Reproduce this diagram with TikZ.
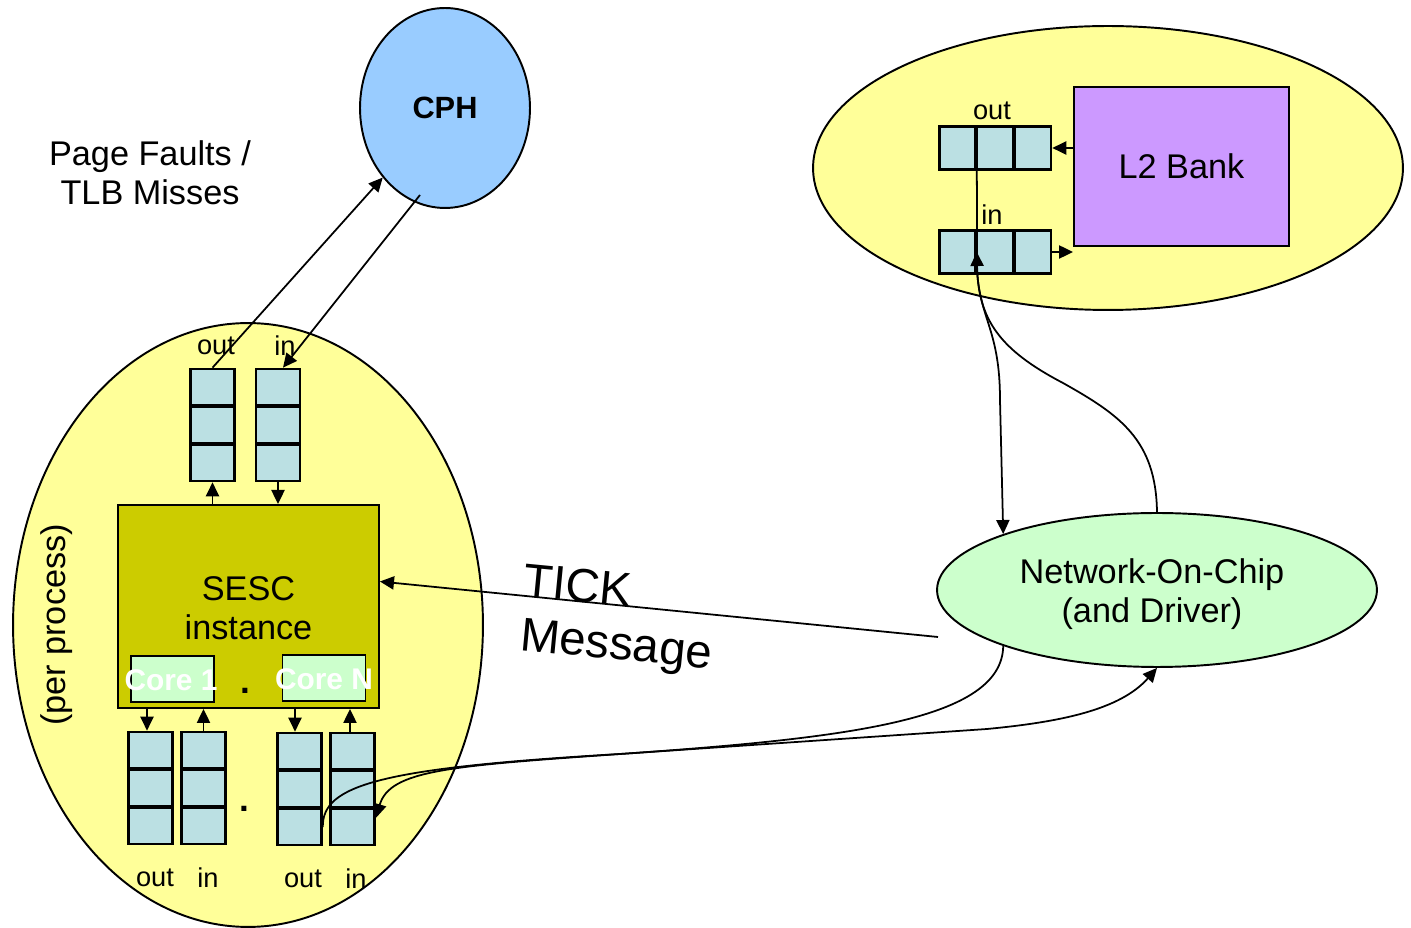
\documentclass[tikz,border=0pt]{standalone}
\usepackage{fontspec}
\setmainfont{Liberation Sans}
\usetikzlibrary{shapes.geometric,arrows.meta}
\definecolor{paleyellow}{HTML}{FFFF99}
\definecolor{cphblue}{HTML}{99CCFF}
\definecolor{lilac}{HTML}{CC99FF}
\definecolor{olive}{HTML}{CCCC00}
\definecolor{palegreen}{HTML}{CCFFCC}
\definecolor{cellblue}{HTML}{BBE0E3}
\begin{document}
\begin{tikzpicture}[x=0.02cm,y=-0.02cm,
  blob/.style={ellipse,draw,line width=1.1pt,inner sep=0pt},
  cell/.style={draw,line width=1.5pt,fill=cellblue,minimum width=0.88cm,minimum height=0.72cm,inner sep=0pt},
  rcell/.style={cell,minimum width=0.72cm,minimum height=0.86cm},
  conn/.style={line width=1pt},
  arr/.style={conn,-{Triangle[length=8pt,width=7.5pt]}},
  barr/.style={conn,{Triangle[length=8pt,width=7.5pt]}-{Triangle[length=8pt,width=7.5pt]}},
  big/.style={font=\fontsize{19.5}{22}\selectfont},
  small/.style={font=\fontsize{15.5}{18}\selectfont},
  huge/.style={font=\fontsize{27}{32}\selectfont},
  corebox/.style={draw,line width=1.1pt,fill=palegreen,minimum width=1.66cm,minimum height=0.92cm,inner sep=0pt},
  coretext/.style={inner sep=0pt,text=white,font=\fontsize{17}{19}\bfseries\selectfont}
]
\useasboundingbox (0,0) rectangle (1411,928);

% big ellipses
\node[blob,fill=paleyellow,minimum width=9.4cm,minimum height=12.08cm] (proc) at (248,625) {};
\node[blob,fill=paleyellow,minimum width=11.8cm,minimum height=5.68cm] (l2area) at (1108,168) {};
\node[blob,fill=cphblue,minimum width=3.4cm,minimum height=4cm,font=\fontsize{17.5}{20}\bfseries\selectfont] (cph) at (445,108) {CPH};
\node[blob,fill=palegreen,minimum width=8.8cm,minimum height=3.08cm] (noc) at (1157,590) {};
\node[big,align=center] (noctext) at (1152,594) {Network-On-Chip\\(and Driver)};

% texts
\node[big,align=center] (pf) at (150,173) {Page Faults /\\TLB Misses};
\node[big,rotate=90] (pp) at (57,625) {(per process)};

% L2 bank
\node[draw,line width=1.1pt,fill=lilac,minimum width=4.3cm,minimum height=3.18cm,inner sep=0pt,big] (l2) at (1181.5,166.5) {L2 Bank};
\node[rcell] (ro1) at (957.5,148) {};
\node[rcell] (ro2) at (995,148) {};
\node[rcell] (ro3) at (1033,148) {};
\node[rcell] (ri1) at (957.5,252) {};
\node[rcell] (ri2) at (995,252) {};
\node[rcell] (ri3) at (1033,252) {};
\node[small] (rolab) at (992,111) {out};
\node[small] (rilab) at (992,215) {in};

% SESC
\node[draw,line width=1.1pt,fill=olive,minimum width=5.22cm,minimum height=4.06cm,inner sep=0pt] (sesc) at (248.5,606.5) {};
\node[big,align=center] (sesctext) at (248.5,608) {SESC\\instance};
\node[corebox] (core1) at (172.5,679) {};
\node[corebox] (coren) at (324,678) {};
\node[coretext] (core1text) at (171,680) {Core 1};
\node[coretext] (corentext) at (324,679) {Core N};
\node[anchor=base,font=\fontsize{20}{22}\bfseries\selectfont] (dot1) at (245,694) {.};

% top queues
\node[cell] (to1) at (212.5,387) {};
\node[cell] (to2) at (212.5,425) {};
\node[cell] (to3) at (212.5,463) {};
\node[cell] (ti1) at (278,387) {};
\node[cell] (ti2) at (278,425) {};
\node[cell] (ti3) at (278,463) {};
\node[small] (tolab) at (216,346) {out};
\node[small] (tilab) at (285,346) {in};

% bottom queues
\node[cell] (ba1) at (150.5,750) {};
\node[cell] (ba2) at (150.5,788) {};
\node[cell] (ba3) at (150.5,826) {};
\node[cell] (bb1) at (203.5,750) {};
\node[cell] (bb2) at (203.5,788) {};
\node[cell] (bb3) at (203.5,826) {};
\node[cell] (bc1) at (299.5,751) {};
\node[cell] (bc2) at (299.5,789) {};
\node[cell] (bc3) at (299.5,827) {};
\node[cell] (bd1) at (352.5,751) {};
\node[cell] (bd2) at (352.5,789) {};
\node[cell] (bd3) at (352.5,827) {};
\node[anchor=base,font=\fontsize{20}{22}\bfseries\selectfont] (dot2) at (244,812) {.};
\node[small] (balab) at (155,878) {out};
\node[small] (bblab) at (208,878) {in};
\node[small] (bclab) at (303,879) {out};
\node[small] (bdlab) at (356,879) {in};

% TICK message
\node[huge,rotate=-5.5] (tick) at (578,585) {TICK};
\node[huge,rotate=-5.5] (msg) at (616,648) {Message};

% connectors
\coordinate (tickstart) at (938,637);
\draw[arr] (tickstart) -- ([yshift=0.5cm]sesc.east);
\draw[arr] (to1.north) -- (cph);
\draw[arr] ([shift={(-25,87)}]cph.center) -- ([xshift=0.1cm]ti1.north);
\draw[arr] (to3.south |- sesc.north) -- (to3.south);
\draw[arr] (ti3.south) -- (ti3.south |- sesc.north);
\draw[arr] ([xshift=-0.07cm]ba1.north |- sesc.south) -- ([xshift=-0.07cm]ba1.north);
\draw[arr] (bb1.north) -- (bb1.north |- sesc.south);
\draw[arr] ([xshift=-0.09cm]bc1.north |- sesc.south) -- ([xshift=-0.09cm]bc1.north);
\draw[arr] ([xshift=-0.05cm]bd1.north) -- ([xshift=-0.05cm]bd1.north |- sesc.south);
\draw[arr] (l2.west |- ro3.east) -- (ro3.east);
\draw[arr] (ri3.east) -- (ri3.east -| l2.west);

% right side links
\draw[arr] (ro1.east) -- (977,270) .. controls (980,320) and (1000,330) .. (1000,400) -- (noc.160);
\draw[arr] (noc.north) .. controls (1156,440) and (1120,415) .. (1063,383)
   .. controls (1000,350) and (978,320) .. (ri1.east);

% bottom links
\draw[conn] (bc3.east) .. controls (322,785) and (380,768) .. (620,754)
   .. controls (850,738) and (1002,720) .. (noc.200);
\draw[barr] (noc.south) .. controls (1120,710) and (1060,722) .. (987,729)
   -- (620,754) .. controls (450,766) and (390,770) .. ([yshift=0.18cm]bd3.east);
\end{tikzpicture}
\end{document}
